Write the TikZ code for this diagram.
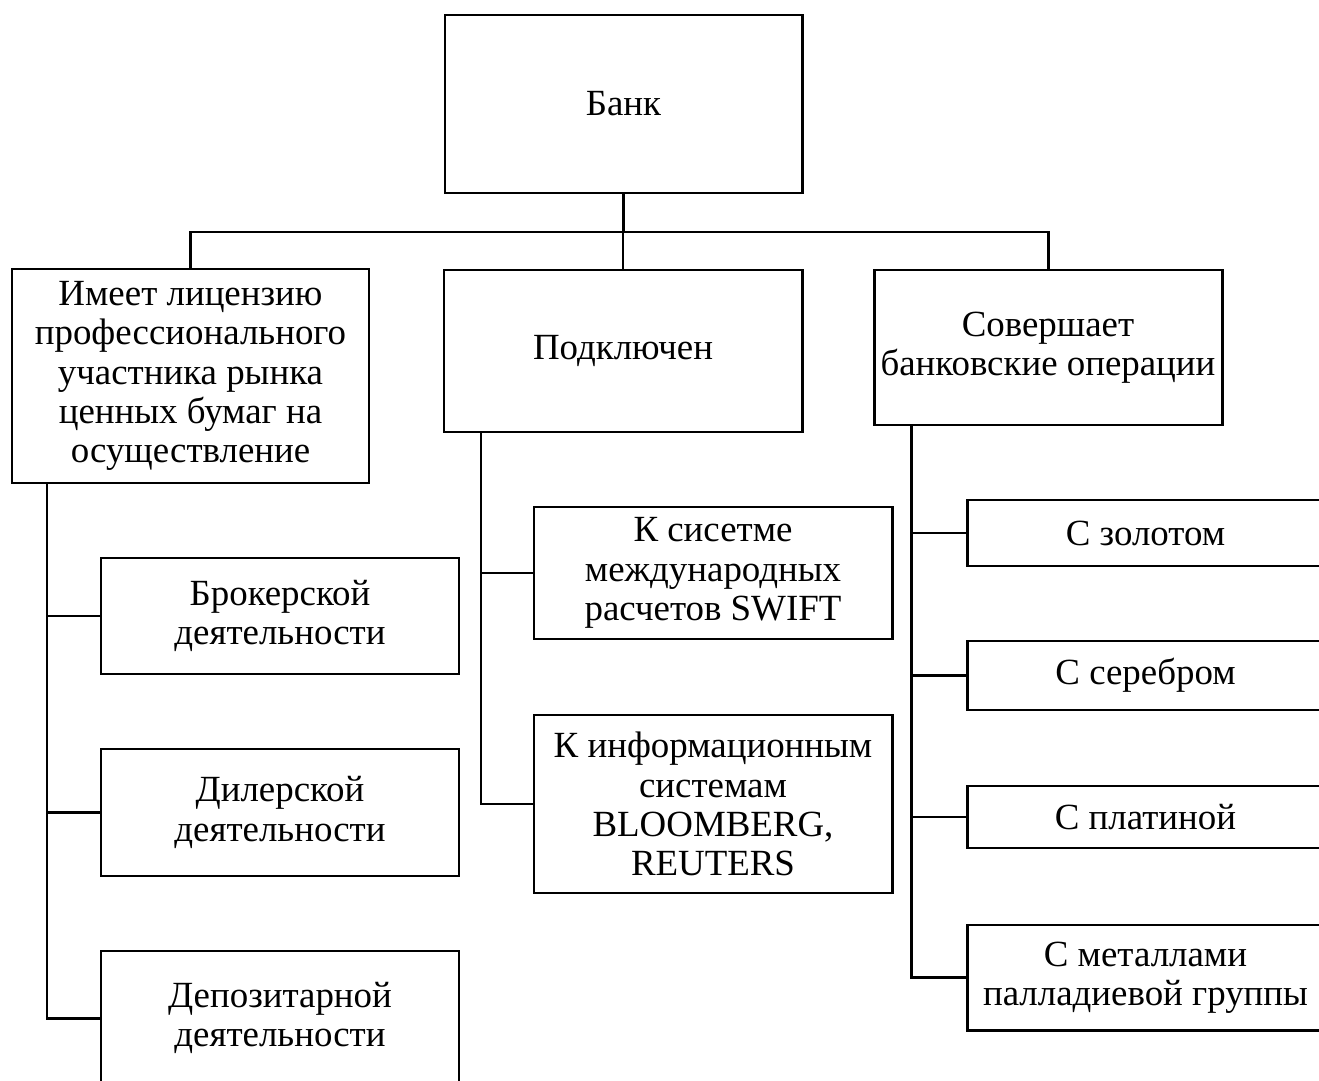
\documentclass[tikz,border=0pt]{standalone}
\usepackage{fontspec}
\setmainfont{Liberation Serif}
\begin{document}
\begin{tikzpicture}[line join=miter,x=0.02cm,y=-0.02cm,
		box/.style={draw,line width=1.7pt,align=center,inner sep=0pt,font=\fontsize{21}{22.3}\selectfont},
		link/.style={line width=1.7pt}]
		\useasboundingbox (0,0) rectangle (1319,1081);
		\clip (0,0) rectangle (1319,1081);
		% top
		\node[box,minimum width=357*0.02cm,minimum height=178*0.02cm] (bank) at (623.5,104) {Банк};
		% level 1
		\node[box,minimum width=357*0.02cm,minimum height=214*0.02cm] (lic) at (190.5,376) {Имеет лицензию\\профессионального\\участника рынка\\ценных бумаг на\\осуществление};
		\node[box,minimum width=358*0.02cm,minimum height=162*0.02cm] (conn) at (623,351) {Подключен};
		\node[box,minimum width=348*0.02cm,minimum height=155*0.02cm] (oper) at (1048,347.5) {Совершает\\банковские операции};
		% level 2, left
		\node[box,minimum width=358*0.02cm,minimum height=116*0.02cm] (broker) at (280,616) {Брокерской\\деятельности};
		\node[box,minimum width=358*0.02cm,minimum height=127*0.02cm] (dealer) at (280,812.5) {Дилерской\\деятельности};
		\node[box,minimum width=358*0.02cm,minimum height=134*0.02cm] (depo) at (280,1018) {Депозитарной\\деятельности};
		% level 2, middle
		\node[box,minimum width=358*0.02cm,minimum height=132*0.02cm] (swift) at (713,573) {К сисетме\\международных\\расчетов SWIFT};
		\node[box,minimum width=358*0.02cm,minimum height=178*0.02cm] (bloom) at (713,804) {К информационным\\системам\\BLOOMBERG,\\REUTERS};
		% level 2, right
		\node[box,minimum width=357*0.02cm,minimum height=66*0.02cm] (gold) at (1145.5,533) {С золотом};
		\node[box,minimum width=357*0.02cm,minimum height=69*0.02cm] (silver) at (1145.5,675.5) {С серебром};
		\node[box,minimum width=357*0.02cm,minimum height=62*0.02cm] (plat) at (1145.5,817) {С платиной};
		\node[box,minimum width=357*0.02cm,minimum height=105*0.02cm] (metal) at (1145.5,977.5) {С металлами\\палладиевой группы};
		% connectors
		\coordinate (bus) at (623.5,232);
		\coordinate (licspine) at (47,483);
		\coordinate (connspine) at (481,432);
		\coordinate (operspine) at (911,425);
		\draw[link] (bank.south) -- (bus);
		\foreach \c in {lic,conn,oper}
			\draw[link] (bus) -| (\c.north);
		\foreach \c in {broker,dealer,depo}
			\draw[link] (licspine) |- (\c.west);
		\foreach \c in {swift,bloom}
			\draw[link] (connspine) |- (\c.west);
		\foreach \c in {gold,silver,plat,metal}
			\draw[link] (operspine) |- (\c.west);
	\end{tikzpicture}
\end{document}
